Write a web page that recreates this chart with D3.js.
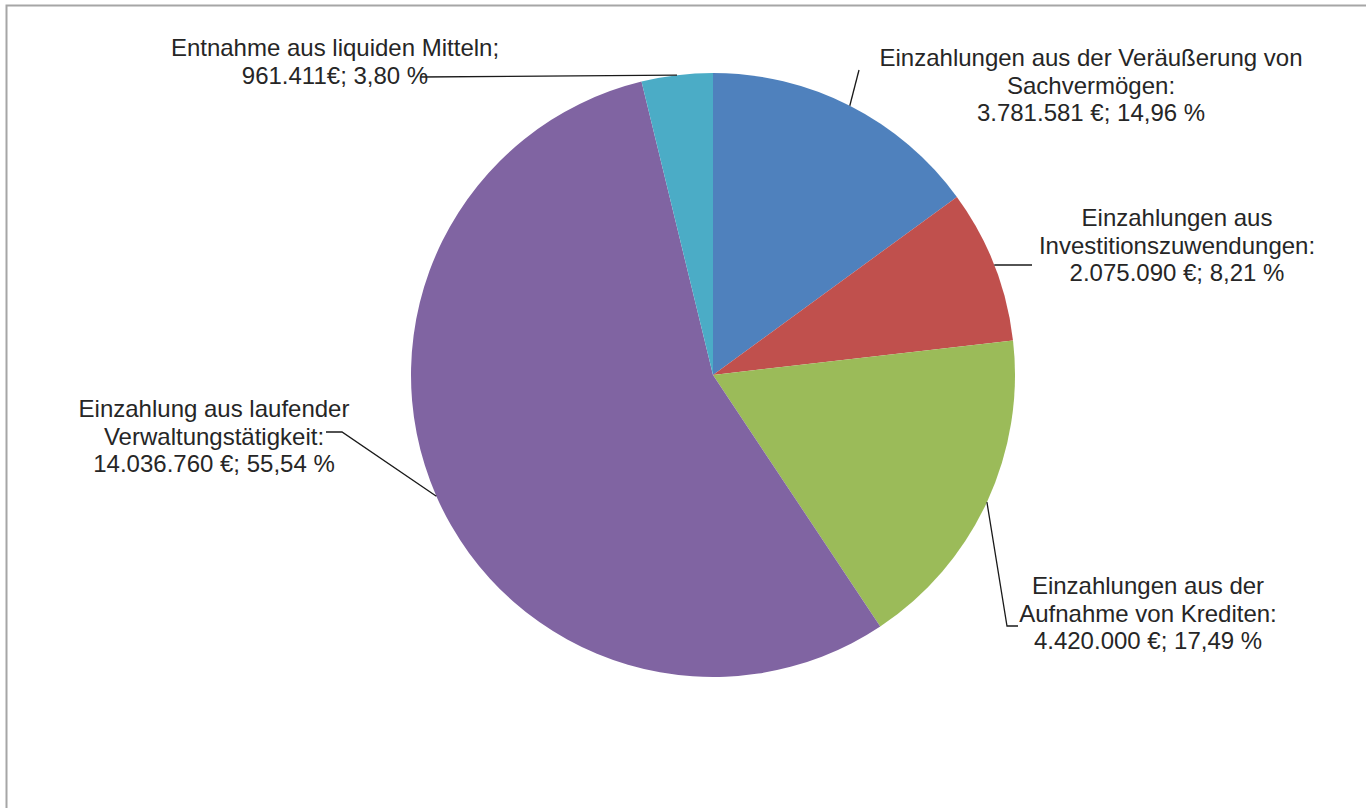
<!DOCTYPE html>
<html>
<head>
<meta charset="utf-8">
<script src="https://cdn.jsdelivr.net/npm/d3@7"></script>
<style>
  body { margin: 0; background: #fff; }
  text { font-family: "Liberation Sans", Arial, sans-serif; }
</style>
</head>
<body>
<div id="chart"></div>
<script>
// data
let categories = [
    "Einzahlungen aus der Veräußerung von Sachvermögen",
    "Einzahlungen aus Investitionszuwendungen",
    "Einzahlungen aus der Aufnahme von Krediten",
    "Einzahlung aus laufender Verwaltungstätigkeit",
    "Entnahme aus liquiden Mitteln"
];
let values = [3781581, 2075090, 4420000, 14036760, 961411];
let labelLines = [
    ["Einzahlungen aus der Veräußerung von", "Sachvermögen:", "3.781.581 €; 14,96 %"],
    ["Einzahlungen aus", "Investitionszuwendungen:", "2.075.090 €; 8,21 %"],
    ["Einzahlungen aus der", "Aufnahme von Krediten:", "4.420.000 €; 17,49 %"],
    ["Einzahlung aus laufender", "Verwaltungstätigkeit:", "14.036.760 €; 55,54 %"],
    ["Entnahme aus liquiden Mitteln;", "961.411€; 3,80 %"]
];
let colors = ["#4f81bd", "#c0504d", "#9bbb59", "#8064a2", "#4bacc6"];

let width = 1366;
let height = 808;
let cx = 713, cy = 375, radius = 302;

// label placement (center x, first line y) and leader line bends
let labelPos = [
    {x: 1091, y: 66, leader: [[859, 70]]},
    {x: 1177, y: 226, leader: [[1032, 265]]},
    {x: 1148, y: 594, leader: [[1007, 626], [1018, 626]]},
    {x: 214, y: 417, leader: [[342, 432], [326, 432]]},
    {x: 335, y: 56, leader: [[420, 77]]}
];
let lineHeight = 27.5;

let svg = d3.select('#chart')
    .append('svg')
        .attr('width', width)
        .attr('height', height);

svg.append('rect')
    .attr('x', 6.5)
    .attr('y', 5.5)
    .attr('width', width + 20)
    .attr('height', height + 20)
    .attr('fill', 'none')
    .attr('stroke', '#a6a6a6')
    .attr('stroke-width', 2);

let pie = d3.pie().sort(null);
let arcs = pie(values);
let arc = d3.arc().innerRadius(0).outerRadius(radius);

let g = svg.append('g')
    .attr('transform', "translate(" + cx + "," + cy + ")");

g.selectAll('path')
    .data(arcs)
    .enter()
    .append('path')
        .attr('d', arc)
        .attr('fill', function (d, i) {
            return colors[i];
        });

// leader lines from the slice edge
arcs.forEach(function (d, i) {
    let mid = (d.startAngle + d.endAngle) / 2;
    let pts = [[cx + radius * Math.sin(mid), cy - radius * Math.cos(mid)]]
        .concat(labelPos[i].leader);
    svg.append('path')
        .attr('d', d3.line()(pts))
        .attr('fill', 'none')
        .attr('stroke', '#1a1a1a')
        .attr('stroke-width', 1.3);
});

// labels
labelLines.forEach(function (lines, i) {
    let t = svg.append('text')
        .attr('text-anchor', 'middle')
        .attr('font-size', '24px')
        .attr('fill', '#262626');
    lines.forEach(function (line, j) {
        t.append('tspan')
            .attr('x', labelPos[i].x)
            .attr('y', labelPos[i].y + j * lineHeight)
            .text(line);
    });
});
</script>
</body>
</html>
